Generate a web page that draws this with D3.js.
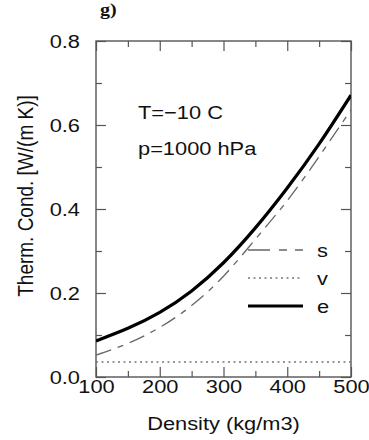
<!DOCTYPE html>
<html>
<head>
<meta charset="utf-8">
<script src="https://cdn.jsdelivr.net/npm/d3@7"></script>
<style>
  html, body { margin: 0; padding: 0; background: #fff; }
  svg { display: block; }
  text { font-family: "Liberation Sans", Arial, Helvetica, sans-serif; fill: #111; }
</style>
</head>
<body>
<svg id="chart" width="369" height="440"></svg>
<script>
// ---- data ----
const density = [100, 150, 200, 250, 300, 350, 400, 450, 500];
const seriesS = [0.052, 0.080, 0.118, 0.170, 0.240, 0.328, 0.420, 0.525, 0.636];
const seriesV = [0.036, 0.036, 0.036, 0.036, 0.036, 0.036, 0.036, 0.036, 0.036];
const seriesE = [0.086, 0.116, 0.154, 0.205, 0.272, 0.355, 0.450, 0.555, 0.671];
const xMajorTicks = [100, 200, 300, 400, 500];
const xMinorTicks = [150, 250, 350, 450];
const yMajorTicks = [0.0, 0.2, 0.4, 0.6, 0.8];
const yMinorTicks = [0.1, 0.3, 0.5, 0.7];
const legendKeys = ["s", "v", "e"];
const annotations = ["T=\u221210 C", "p=1000 hPa"];
const panelLabel = "g)";
const xTitle = "Density (kg/m3)";
const yTitle = "Therm. Cond. [W/(m K)]";

// ---- layout ----
const L = 96, R = 351, T = 41, B = 377;
const SX = 1.18;     // horizontal stretch of the reference lettering
const FS = 18.5;

const svg = d3.select("#chart");
const x = d3.scaleLinear().domain([100, 500]).range([L, R]);
const y = d3.scaleLinear().domain([0, 0.8]).range([B, T]);

const MAJ = 10, MIN = 6;
const axisColor = "#555";

function styleAxis(g) {
  g.select(".domain").remove();
  g.selectAll(".tick line").attr("stroke", axisColor).attr("stroke-width", 1.2);
}

// bottom axis (labels)
svg.append("g").attr("transform", `translate(0,${B})`)
  .call(d3.axisBottom(x).tickValues(xMajorTicks).tickSizeInner(-MAJ).tickSizeOuter(0).tickPadding(3).tickFormat(d3.format("d")))
  .call(styleAxis)
  .call(g => g.selectAll(".tick text")
      .attr("font-size", FS).attr("font-family", null).attr("fill", "#111")
      .attr("transform", function() { return `translate(0,${d3.select(this).attr("y")}) scale(${SX},1)`; })
      .attr("y", 0));
svg.append("g").attr("transform", `translate(0,${B})`)
  .call(d3.axisBottom(x).tickValues(xMinorTicks).tickSizeInner(-MIN).tickSizeOuter(0).tickFormat(""))
  .call(styleAxis);
// top axis
svg.append("g").attr("transform", `translate(0,${T})`)
  .call(d3.axisTop(x).tickValues(xMajorTicks).tickSizeInner(-MAJ).tickSizeOuter(0).tickFormat(""))
  .call(styleAxis);
svg.append("g").attr("transform", `translate(0,${T})`)
  .call(d3.axisTop(x).tickValues(xMinorTicks).tickSizeInner(-MIN).tickSizeOuter(0).tickFormat(""))
  .call(styleAxis);
// left axis (labels)
svg.append("g").attr("transform", `translate(${L},0)`)
  .call(d3.axisLeft(y).tickValues(yMajorTicks).tickSizeInner(-MAJ).tickSizeOuter(0).tickPadding(16).tickFormat(d3.format(".1f")))
  .call(styleAxis)
  .call(g => g.selectAll(".tick text")
      .attr("font-size", FS).attr("font-family", null).attr("fill", "#111")
      .attr("transform", function() { return `translate(${d3.select(this).attr("x")},1) scale(${SX},1)`; })
      .attr("x", 0));
svg.append("g").attr("transform", `translate(${L},0)`)
  .call(d3.axisLeft(y).tickValues(yMinorTicks).tickSizeInner(-MIN).tickSizeOuter(0).tickFormat(""))
  .call(styleAxis);
// right axis
svg.append("g").attr("transform", `translate(${R},0)`)
  .call(d3.axisRight(y).tickValues(yMajorTicks).tickSizeInner(-MAJ).tickSizeOuter(0).tickFormat(""))
  .call(styleAxis);
svg.append("g").attr("transform", `translate(${R},0)`)
  .call(d3.axisRight(y).tickValues(yMinorTicks).tickSizeInner(-MIN).tickSizeOuter(0).tickFormat(""))
  .call(styleAxis);

// frame
svg.append("rect").attr("x", L).attr("y", T).attr("width", R - L).attr("height", B - T)
  .attr("fill", "none").attr("stroke", axisColor).attr("stroke-width", 1.4);

// clip
svg.append("clipPath").attr("id", "clip").append("rect")
  .attr("x", L).attr("y", T).attr("width", R - L).attr("height", B - T);

const line = d3.line().x(d => x(d[0])).y(d => y(d[1])).curve(d3.curveNatural);
const plot = svg.append("g").attr("clip-path", "url(#clip)");

const styles = {
  s: { stroke: "#666", width: 1.3, dash: "16,7,6,7" },
  v: { stroke: "#777", width: 1.5, dash: "2,3.5" },
  e: { stroke: "#000", width: 3.2, dash: null }
};
const data = { s: seriesS, v: seriesV, e: seriesE };

legendKeys.forEach(k => {
  plot.append("path")
    .datum(density.map((d, i) => [d, data[k][i]]))
    .attr("fill", "none")
    .attr("stroke", styles[k].stroke)
    .attr("stroke-width", styles[k].width)
    .attr("stroke-dasharray", styles[k].dash)
    .attr("d", line);
});

// legend
const legY0 = 250, legDY = 28;
legendKeys.forEach((k, i) => {
  const ly = legY0 + i * legDY;
  svg.append("line").attr("x1", 248).attr("x2", 303).attr("y1", ly).attr("y2", ly)
    .attr("stroke", styles[k].stroke).attr("stroke-width", styles[k].width)
    .attr("stroke-dasharray", k === "s" ? "22,9,8,8" : styles[k].dash);
  svg.append("text").attr("transform", `translate(317,${ly + 7}) scale(${SX},1)`)
    .attr("font-size", FS).text(k);
});

// annotations
svg.append("text").attr("transform", `translate(138,119) scale(${SX},1)`)
  .attr("font-size", FS).text(annotations[0]);
svg.append("text").attr("transform", `translate(138,155) scale(${SX},1)`)
  .attr("font-size", FS).text(annotations[1]);

// panel label
svg.append("text").attr("transform", `translate(100,15) scale(${SX},1)`)
  .attr("font-size", 17).attr("font-weight", "bold")
  .style("font-family", "'Liberation Serif', 'Times New Roman', serif").text(panelLabel);

// axis titles
svg.append("text").attr("transform", `translate(${(L + R) / 2},430) scale(${SX},1)`)
  .attr("text-anchor", "middle").attr("font-size", FS).text(xTitle);
svg.append("text").attr("transform", `translate(33,196) scale(${SX},1) rotate(-90)`)
  .attr("text-anchor", "middle").attr("font-size", 19).text(yTitle);
</script>
</body>
</html>
